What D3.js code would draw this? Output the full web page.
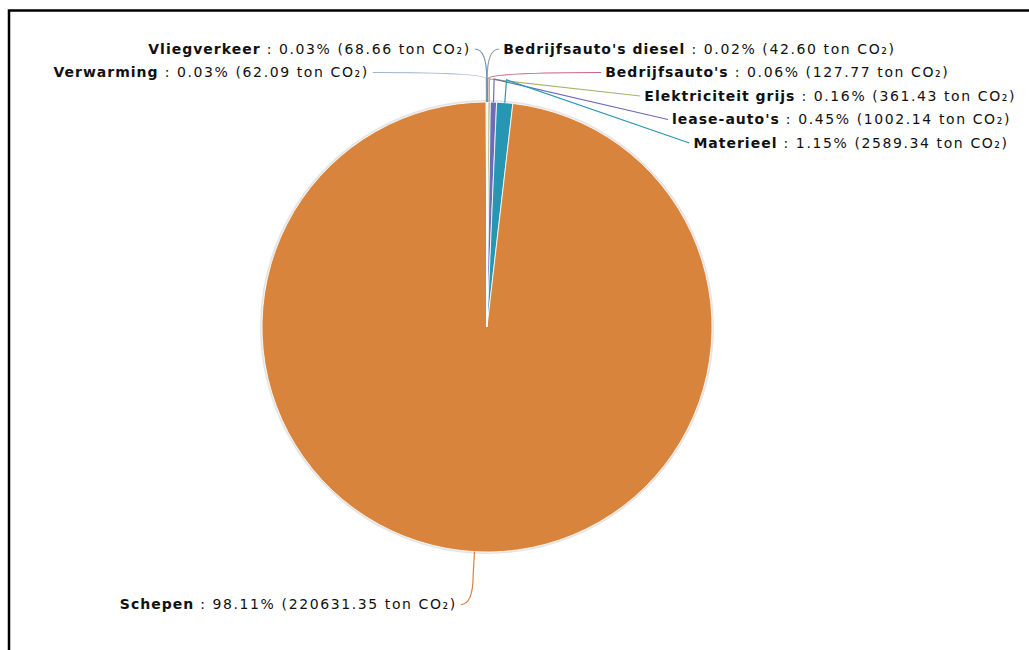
<!DOCTYPE html>
<html>
<head>
<meta charset="utf-8">
<script src="https://cdn.jsdelivr.net/npm/d3@7/dist/d3.min.js"></script>
<style>
  body { margin: 0; background: #fff; }
  svg { display: block; }
  .lbl { font-family: "DejaVu Sans", sans-serif; font-size: 14px; fill: #111; letter-spacing: 1.6px; }
  .lbl .nm { font-weight: bold; letter-spacing: 1px; }
</style>
</head>
<body>
<svg id="chart" width="1029" height="650"></svg>
<script>
// slice order as drawn, clockwise from 12 o'clock
const categories = ["Bedrijfsauto's diesel", "Bedrijfsauto's", "Elektriciteit grijs", "lease-auto's",
                    "Materieel", "Schepen", "Verwarming", "Vliegverkeer"];
const tons = [42.60, 127.77, 361.43, 1002.14, 2589.34, 220631.35, 62.09, 68.66];
const sliceColors = ["#9a9a9a", "#c4618a", "#a9b46a", "#6e6cb8", "#2796b2", "#d9843c", "#9bb4d0", "#6f92b6"];

const svg = d3.select('#chart');
const cx = 487, cy = 327, radius = 225;
const elbowRadius = radius + 23, rowGap = 23.5;
// labels sit on an ellipse round the pie, pushed apart vertically
const labelA = 254, labelB = 278, labelGap = 16;

// frame (only top and left edges are visible in the picture)
svg.append('rect')
    .attr('x', 9).attr('y', 10.5)
    .attr('width', 1100).attr('height', 700)
    .attr('fill', 'none').attr('stroke', '#000').attr('stroke-width', 2.5);

const data = categories.map((name, i) => ({ name: name, value: tons[i], color: sliceColors[i] }));
const total = d3.sum(tons);
const fmt = d3.format('.2f');

const pie = d3.pie().sort(null).value((d) => d.value);
const arcs = pie(data);
const arc = d3.arc().innerRadius(0).outerRadius(radius);

const g = svg.append('g').attr('transform', `translate(${cx},${cy})`);

// soft edge ring
g.append('circle').attr('r', radius + 1).attr('fill', 'none')
    .attr('stroke', '#e4e4e4').attr('stroke-width', 2);

g.selectAll('path.slice').data(arcs).enter().append('path')
    .attr('class', 'slice')
    .attr('d', arc)
    .attr('fill', (d) => d.data.color)
    .attr('stroke', '#fff')
    .attr('stroke-width', 0.8);

function polar(r, a) {
    return [r * Math.sin(a), -r * Math.cos(a)];
}

const labels = arcs.map((d) => {
    const mid = (d.startAngle + d.endAngle) / 2;
    return { arc: d, mid: mid, right: Math.sin(mid) >= 0, y: -labelB * Math.cos(mid) };
});

function stack(list) {
    list.sort((a, b) => a.y - b.y);
    for (let i = 1; i < list.length; i++) {
        if (list[i].y < list[i - 1].y + rowGap) list[i].y = list[i - 1].y + rowGap;
    }
}
stack(labels.filter((l) => l.right));
stack(labels.filter((l) => !l.right && l.y < 0));
stack(labels.filter((l) => !l.right && l.y >= 0));

labels.forEach((l) => {
    const k = Math.max(0, 1 - (l.y / labelB) * (l.y / labelB));
    const dx = labelA * Math.sqrt(k) + labelGap;
    l.x = l.right ? dx : -dx;
});

const lines = g.append('g');
labels.forEach((l) => {
    const p0 = polar(radius, l.mid);
    const p1 = polar(elbowRadius, l.mid);
    const ex = l.right ? l.x - 4 : l.x + 4;
    let d = `M${p0[0]},${p0[1]}L${p1[0]},${p1[1]}`;
    const goingOut = l.y < 0 ? l.y < p1[1] : l.y > p1[1];
    if (goingOut) {
        d += `Q${p1[0]},${l.y} ${ex},${l.y}`;
    } else {
        d += `L${ex},${l.y}`;
    }
    lines.append('path').attr('d', d)
        .attr('fill', 'none')
        .attr('stroke', l.arc.data.color)
        .attr('stroke-width', 1.2);
});

const texts = g.append('g');
labels.forEach((l) => {
    const d = l.arc.data;
    const t = texts.append('text')
        .attr('class', 'lbl')
        .attr('x', l.x)
        .attr('y', l.y)
        .attr('dy', '0.35em')
        .attr('text-anchor', l.right ? 'start' : 'end');
    t.append('tspan').attr('class', 'nm').text(d.name);
    t.append('tspan').text(` : ${fmt(d.value / total * 100)}% (${fmt(d.value)} ton CO\u2082)`);
});
</script>
</body>
</html>
